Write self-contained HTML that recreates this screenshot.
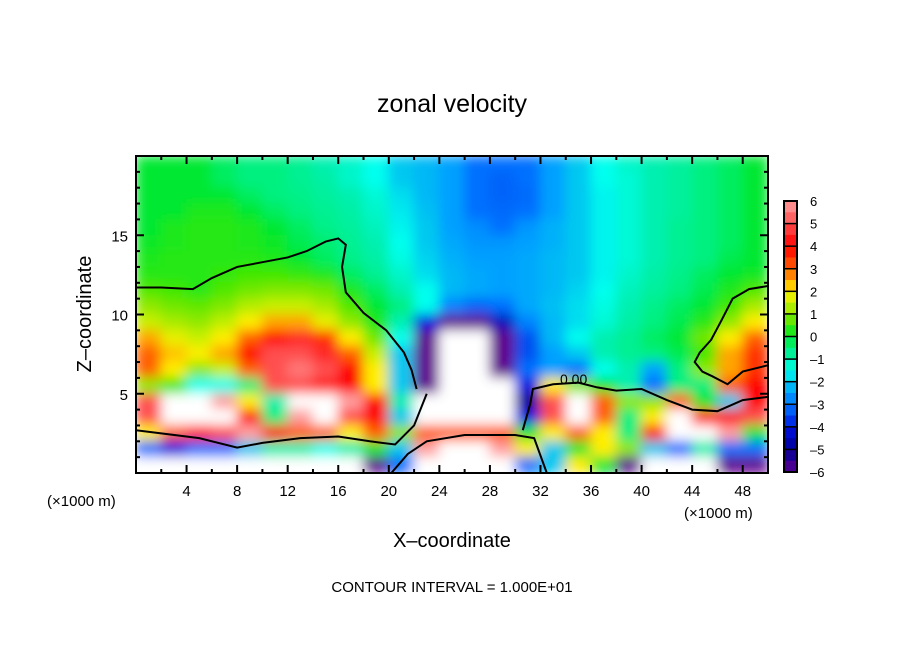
<!DOCTYPE html>
<html><head><meta charset="utf-8"><style>
body{margin:0;background:#fff;}
svg text{font-family:"Liberation Sans",sans-serif;fill:#000;}
</style></head><body>
<svg id="chart" width="904" height="654" viewBox="0 0 904 654" xmlns="http://www.w3.org/2000/svg">
<defs>
<filter id="blur" x="0" y="0" width="1" height="1"><feGaussianBlur stdDeviation="6" edgeMode="duplicate"/></filter>
<clipPath id="clip"><rect x="136" y="156" width="632" height="317"/></clipPath>
</defs>
<text x="452" y="112" font-size="25" text-anchor="middle">zonal velocity</text>
<g id="field" clip-path="url(#clip)"><g id="cells" filter="url(#blur)"></g></g>
<g id="contours" clip-path="url(#clip)"></g>
<text x="560" y="384" font-size="14">0.00</text>
<rect x="136" y="156" width="632" height="317" fill="none" stroke="#000" stroke-width="2"/>
<g id="axes"></g>
<text transform="translate(91,314) rotate(-90)" font-size="20" text-anchor="middle">Z–coordinate</text>
<text x="452" y="547" font-size="20" text-anchor="middle">X–coordinate</text>
<text x="47" y="506" font-size="15">(×1000 m)</text>
<text x="684" y="518" font-size="15">(×1000 m)</text>
<text x="452" y="592" font-size="15" text-anchor="middle">CONTOUR INTERVAL = 1.000E+01</text>
<g id="colorbar"></g>
</svg>
<script>
const xCenters=[1,3,5,7,9,11,13,15,17,19,21,23,25,27,29,31,33,35,37,39,41,43,45,47,49];
const zCenters=[19.5,18.5,17.5,16.5,15.5,14.5,13.5,12.5,11.5,10.5,9.5,8.5,7.5,6.5,5.5,4.5,3.5,2.5,1.5,0.5];
const u19=[0,0,0,-0.3,-0.5,-0.5,-0.7,-1,-1.2,-1.5,-2,-2.2,-2.5,-3,-3,-3,-2.5,-2,-1.5,-1.2,-1,-0.8,-0.5,-0.3,0];
const u18=[0,0,0,-0.3,-0.5,-0.5,-0.7,-0.9,-1.2,-1.5,-2,-2.2,-2.5,-3,-3.2,-3,-2.5,-2,-1.5,-1.3,-1,-0.8,-0.5,-0.3,0];
const u17=[0,0,0,0,-0.3,-0.5,-0.6,-0.8,-1,-1.3,-1.8,-2.2,-2.5,-3,-3.2,-3.1,-2.5,-2,-1.6,-1.3,-1,-0.8,-0.5,-0.3,0];
const u16=[0,0,0.2,0.2,0,-0.3,-0.5,-0.7,-0.9,-1.2,-1.7,-2.1,-2.5,-3,-3.1,-3,-2.5,-2,-1.6,-1.3,-1,-0.8,-0.5,-0.3,0];
const u15=[0,0.2,0.3,0.3,0.2,0,-0.3,-0.6,-0.8,-1.1,-1.6,-2,-2.5,-2.7,-3,-2.6,-2.3,-2,-1.6,-1.3,-1,-0.7,-0.5,-0.3,0];
const u14=[0.1,0.2,0.3,0.3,0.2,0.1,-0.2,-0.4,-0.7,-1,-1.5,-2,-2.4,-2.6,-2.6,-2.5,-2.3,-2,-1.6,-1.3,-1,-0.7,-0.5,-0.3,0];
const u13=[0.2,0.3,0.3,0.3,0.3,0.2,0,-0.3,-0.6,-0.9,-1.4,-1.9,-2.3,-2.5,-2.5,-2.4,-2.2,-2,-1.6,-1.3,-1,-0.7,-0.5,-0.2,0];
const u12=[0.3,0.3,0.3,0.4,0.5,0.5,0.4,0.2,-0.3,-0.7,-1.2,-1.8,-2.2,-2.4,-2.5,-2.4,-2.2,-2,-1.6,-1.2,-0.9,-0.6,-0.3,0,0.1];
const u11=[0.6,0.5,0.3,0.6,0.8,0.9,0.9,0.8,0.2,-0.3,-1,-1.5,-2.2,-2.4,-2.5,-2.4,-2.2,-1.9,-1.5,-1.1,-0.8,-0.5,-0.2,0.2,0.6];
const u10=[1,0.8,0.7,0.9,1.3,1.5,1.5,1.2,0.6,0,-0.5,-1.5,-2.8,-3.2,-3,-2.4,-2.1,-1.8,-1.4,-1,-0.6,-0.3,0,0.5,1.2];
const u9=[1.5,1.2,1,1.4,2,2.5,2.5,1.8,1,0.2,-1,-4,-6.2,-6.2,-4.5,-2.8,-2.2,-1.8,-1.3,-0.9,-0.5,-0.2,0.3,1,2];
const u8=[2.5,1.8,1.5,2,3,4,4.5,3.5,2,0.8,-1.5,-6,-8,-8,-6.2,-3.5,-2.2,-1.5,-1,-0.7,-0.3,0,0.8,2,3];
const u7=[3,2.3,2,2.5,4,5,5,4.5,3,1.5,-2,-6.2,-8,-8,-6.2,-3.5,-2.5,-2,-1,-0.7,-0.5,-0.2,0.5,2.5,3.5];
const u6=[3,2,1,1.5,3,5,5.5,5,4,2,-2,-6.2,-8,-8,-6.2,-3,-2.5,-3,-1.5,-1,-2.5,-0.5,1,2.5,3.5];
const u5=[1,0.5,-1.5,-1.5,-0.5,5,5,4.5,4,2,-2,-6.2,-8,-8,-8,-4,2,1,0,-1,-3,-0.5,-0.5,3,4];
const u4=[5,7,8,6,2,-1,7,8,6,4,-1,-8,-8,-8,-8,-5,5,7,3,1,1,3,0,-2,4];
const u3=[5,8,8,7,4,-0.5,6,8,5,4,-2,-8,-8,-8,-8,-4,5,8,3,-0.5,2,7,4,4,5];
const u2=[2,3,4,5,6,4,3,3,2,3,1,3,3,3,3,0,2,3,2,-0.5,4,8,8,6,0];
const u1=[-3,-4,-3,-3,-2,-1,-1,-1.5,-1,0,-2,6,8,8,6,2,-2,0,2,1,-2,-3,-1,-3,-3];
const u0=[-8,-8,-8,-8,-8,-8,-8,-8,-8,-6,-3,8,8,8,8,-3,-2,2,0,-6,-8,-8,-8,-6.2,-6];
const rows=[u19,u18,u17,u16,u15,u14,u13,u12,u11,u10,u9,u8,u7,u6,u5,u4,u3,u2,u1,u0];
const xTicks=[4,8,12,16,20,24,28,32,36,40,44,48];
const zTicks=[5,10,15];
const cbLevels=[6,5,4,3,2,1,0,-1,-2,-3,-4,-5,-6];
const cbLabels=["6","5","4","3","2","1","0","–1","–2","–3","–4","–5","–6"];
const contourTop=[[0,11.7],[2,11.7],[4.5,11.6],[6,12.3],[8,13.0],[10,13.3],[12,13.6],[13.5,14.0],[15,14.6],[16,14.8],[16.6,14.4],[16.3,13],[16.6,11.4],[18,10.1],[19.8,9],[21.2,7.6],[21.8,6.5],[22.2,5.3]];
const contourRight=[[50,11.8],[48.5,11.6],[47.2,11],[46.3,9.6],[45.5,8.4],[44.6,7.6],[44.2,7.0],[44.8,6.4],[45.6,6.1],[46.8,5.6],[48,6.4],[50,6.8]];
const contourMid=[[30.6,2.7],[31.2,4.4],[31.4,5.3],[33,5.6],[35,5.7],[36.5,5.4],[38,5.2],[40,5.3],[42,4.6],[44,4.0],[46,3.9],[48,4.6],[50,4.8]];
const contourLow=[[0,2.7],[2,2.5],[5,2.2],[8,1.6],[10,1.9],[13,2.2],[16,2.3],[18.5,2.0],[20.5,1.8],[22,3],[23,5]];
const contourHill=[[20.2,0],[21.5,1.2],[23,2.0],[26,2.4],[30,2.4],[31.5,2.2],[32.5,0]];

const X0=136,X1=768,Y0=473,Y1=156;
const sx=x=>X0+(x/50)*(X1-X0);
const sz=z=>Y0-(z/20)*(Y0-Y1);
const stops=[[-6,[96,0,144]],[-5,[0,0,150]],[-4,[0,16,224]],[-3.5,[0,80,240]],[-3,[0,112,255]],[-2.5,[0,160,255]],[-2,[0,200,240]],[-1.5,[0,255,238]],[-1,[0,240,176]],[-0.5,[0,240,128]],[0,[0,232,48]],[0.5,[64,232,0]],[1,[144,232,0]],[1.5,[200,240,0]],[2,[255,238,0]],[2.5,[255,165,0]],[3,[255,96,0]],[4,[255,0,0]],[5,[255,80,80]],[6,[255,160,160]]];
function color(v){
  if(v>6.4||v<-6.4) return "#ffffff";
  v=Math.max(-6,Math.min(6,v));
  for(let i=0;i<stops.length-1;i++){const a=stops[i],b=stops[i+1];
    if(v<=b[0]){const t=(v-a[0])/(b[0]-a[0]);const c=a[1].map((q,k)=>Math.round(q+(b[1][k]-q)*t));return `rgb(${c})`;}}
  return "rgb(255,160,160)";
}
const NS="http://www.w3.org/2000/svg";
const cells=document.getElementById('cells');
rows.forEach((row,ri)=>{row.forEach((v,ci)=>{
  const r=document.createElementNS(NS,'rect');
  const xc=xCenters[ci],zc=zCenters[ri];
  r.setAttribute('x',sx(xc-1)-0.5);r.setAttribute('y',sz(zc+0.5)-0.5);
  r.setAttribute('width',sx(xc+1)-sx(xc-1)+1);r.setAttribute('height',sz(zc-0.5)-sz(zc+0.5)+1);
  r.setAttribute('fill',color(v));
  
  
  cells.appendChild(r);});});
const cg=document.getElementById('contours');
[contourTop,contourRight,contourMid,contourLow,contourHill].forEach(pts=>{
  const p=document.createElementNS(NS,'polyline');
  p.setAttribute('points',pts.map(q=>sx(q[0])+','+sz(q[1])).join(' '));
  p.setAttribute('fill','none');p.setAttribute('stroke','#000');p.setAttribute('stroke-width','2');
  
  
  cg.appendChild(p);});
const ax=document.getElementById('axes');
function line(x1,y1,x2,y2,name){const l=document.createElementNS(NS,'line');
  l.setAttribute('x1',x1);l.setAttribute('y1',y1);l.setAttribute('x2',x2);l.setAttribute('y2',y2);
  l.setAttribute('stroke','#000');l.setAttribute('stroke-width','2');
  
  
  ax.appendChild(l);}
for(let x=2;x<50;x+=2){const big=x%4===0;const L=big?8:4;
  line(sx(x),Y0,sx(x),Y0-L,'x-tick');line(sx(x),Y1,sx(x),Y1+L,'x-tick-top');}
for(let z=1;z<20;z++){const big=z%5===0;const L=big?8:4;
  line(X0,sz(z),X0+L,sz(z),'z-tick');line(X1,sz(z),X1-L,sz(z),'z-tick-right');}
xTicks.forEach(x=>{const t=document.createElementNS(NS,'text');
  t.setAttribute('x',sx(x));t.setAttribute('y',496);t.setAttribute('font-size','15');t.setAttribute('text-anchor','middle');
  t.textContent=x;
  
  
  ax.appendChild(t);});
zTicks.forEach(z=>{const t=document.createElementNS(NS,'text');
  t.setAttribute('x',128);t.setAttribute('y',sz(z)+6);t.setAttribute('font-size','15');t.setAttribute('text-anchor','end');
  t.textContent=z;
  
  
  ax.appendChild(t);});
const cb=document.getElementById('colorbar');
const cbTop=201,cbBot=472,step=(cbBot-cbTop)/12;
for(let i=0;i<24;i++){const v=6-(i+0.5)*0.5;
  const r=document.createElementNS(NS,'rect');
  r.setAttribute('x',784);r.setAttribute('y',cbTop+i*step/2);r.setAttribute('width',13);r.setAttribute('height',step/2+0.5);
  r.setAttribute('fill',color(v));
  
  
  cb.appendChild(r);}
for(let i=0;i<=12;i++){const l=document.createElementNS(NS,'line');
  l.setAttribute('x1',784);l.setAttribute('x2',797);l.setAttribute('y1',cbTop+i*step);l.setAttribute('y2',cbTop+i*step);
  l.setAttribute('stroke','#000');l.setAttribute('stroke-width','1.5');
  
  
  cb.appendChild(l);}
const fr=document.createElementNS(NS,'rect');
fr.setAttribute('x',784);fr.setAttribute('y',cbTop);fr.setAttribute('width',13);fr.setAttribute('height',cbBot-cbTop);
fr.setAttribute('fill','none');fr.setAttribute('stroke','#000');fr.setAttribute('stroke-width','2');


cb.appendChild(fr);
cbLevels.forEach((lv,i)=>{const t=document.createElementNS(NS,'text');
  t.setAttribute('x',810);t.setAttribute('y',cbTop+(6-lv)*step+5);t.setAttribute('font-size','13');
  t.textContent=cbLabels[i];
  
  
  cb.appendChild(t);});
</script>
</body></html>
